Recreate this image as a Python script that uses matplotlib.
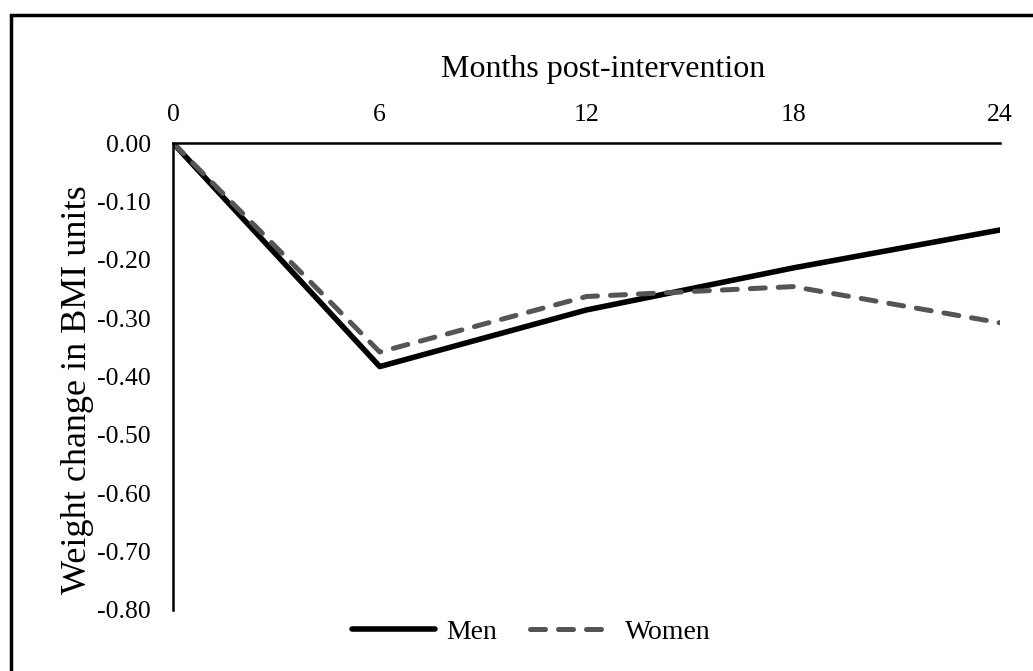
import matplotlib.pyplot as plt
from matplotlib.patches import Rectangle

months = [0, 6, 12, 18, 24]
men = [0.00, -0.383, -0.286, -0.214, -0.149]
women = [0.00, -0.358, -0.263, -0.246, -0.308]
y_ticks = [0.0, -0.1, -0.2, -0.3, -0.4, -0.5, -0.6, -0.7, -0.8]

plt.rcParams['font.family'] = ['Liberation Serif', 'DejaVu Serif']


def plotWeightChange():
    fig = plt.figure(figsize=(10.33, 6.71), dpi=100)
    ax = fig.add_axes([173 / 1033, 1 - 610 / 671, 827 / 1033, 467 / 671])

    ax.plot(months, men, color='black', lw=4.0, solid_capstyle='round',
            solid_joinstyle='round', label='Men')
    ax.plot(months, women, color='#555555', lw=3.6, dashes=(3.0, 2.6),
            dash_capstyle='round', label='Women')

    ax.set_xlim(0, 24)
    ax.set_ylim(-0.8, 0.0)
    ax.set_xticks(months)
    ax.set_yticks(y_ticks)
    ax.set_yticklabels(['%.2f' % v for v in y_ticks])
    ax.xaxis.tick_top()
    ax.xaxis.set_label_position('top')
    ax.tick_params(length=0, labelsize=18.5)
    ax.tick_params(axis='y', pad=16)
    ax.tick_params(axis='x', pad=12)
    ax.spines['bottom'].set_visible(False)
    ax.spines['right'].set_visible(False)
    ax.spines['top'].set_linewidth(1.8)
    ax.spines['left'].set_linewidth(1.8)
    ax.set_xlabel('Months post-intervention', fontsize=23, labelpad=20)
    ax.xaxis.label.set_x(0.52)
    ax.set_ylabel('Weight change in BMI units', fontsize=26, labelpad=2)
    ax.yaxis.label.set_y(0.471)

    fig.legend(loc='center', bbox_to_anchor=(0.514, 1 - 632 / 671), ncol=2,
               frameon=False, fontsize=20, handlelength=3.0, handletextpad=0.4,
               columnspacing=1.2)

    fig.patches.append(Rectangle((10.5 / 1033, -0.1), 1.2, 1 - 14.5 / 671 + 0.1,
                                 transform=fig.transFigure, fill=False,
                                 edgecolor='black', lw=2.5))
    fig.savefig('out.png', dpi=100)


def main():
    plotWeightChange()


if __name__ == '__main__':
    main()
